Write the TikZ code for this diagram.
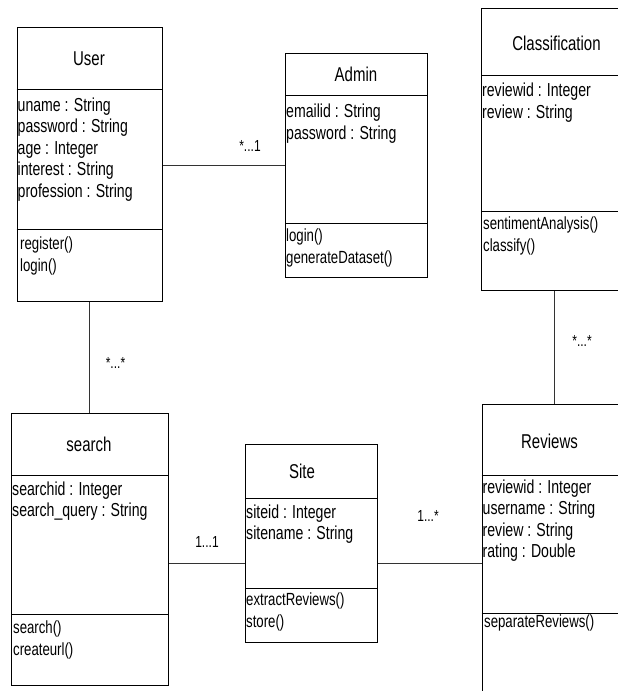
\documentclass[tikz,border=0pt]{standalone}
\usepackage{fontspec}
\setmainfont{Liberation Sans}[FakeStretch=0.75]
\tikzset{
  box/.style={draw=black, line width=1pt, inner sep=0pt, anchor=north west},
  div/.style={line width=1pt, draw=black},
  ttl/.style={font=\fontsize{20}{24}\selectfont, inner sep=0pt, anchor=base},
  attr/.style={font=\fontsize{18.8}{21.5}\selectfont, inner sep=0pt, anchor=base west},
  meth/.style={font=\fontsize{17.6}{22}\selectfont, inner sep=0pt, anchor=base west},
  conn/.style={line width=1pt, draw=black!80},
  mult/.style={font=\fontsize{16}{18}\selectfont, inner sep=0pt},
}
% name, left, top, right, bottom, divider1, divider2
\newcommand\umlbox[7]{%
  \node[box, minimum width=#4pt-#2pt, minimum height=#5pt-#3pt] (#1) at (#2,#3) {};
  \coordinate (#1-d1) at (0,#6);
  \coordinate (#1-d2) at (0,#7);
  \draw[div] (#1.west |- #1-d1) -- (#1.east |- #1-d1);
  \draw[div] (#1.west |- #1-d2) -- (#1.east |- #1-d2);
}
\begin{document}
\begin{tikzpicture}[x=1pt,y=-1pt]
\useasboundingbox (0,0) rectangle (618,691);

% User
\umlbox{user}{16.5}{26.5}{162}{301}{89}{229}
\node[ttl] (user-t) at (89,65) {User};
\node[attr] (user-a1) at (17.5,111) {uname : String};
\node[attr] (user-a2) at (17.5,132.5) {password : String};
\node[attr] (user-a3) at (17.5,154) {age : Integer};
\node[attr] (user-a4) at (17.5,175.5) {interest : String};
\node[attr] (user-a5) at (17.5,197) {profession : String};
\node[meth] (user-m1) at (20,249) {register()};
\node[meth] (user-m2) at (20,271) {login()};

% Admin
\umlbox{admin}{285}{53}{427}{277}{95}{223}
\node[ttl] (admin-t) at (356,81) {Admin};
\node[attr] (admin-a1) at (286,117) {emailid : String};
\node[attr] (admin-a2) at (286,139) {password : String};
\node[meth] (admin-m1) at (286,241) {login()};
\node[meth] (admin-m2) at (286,263) {generateDataset()};

% Classification
\umlbox{cls}{481}{7.5}{620}{290}{75}{211}
\node[ttl] (cls-t) at (556.5,50) {Classification};
\node[attr] (cls-a1) at (482,96) {reviewid : Integer};
\node[attr] (cls-a2) at (482,118) {review : String};
\node[meth] (cls-m1) at (483,229) {sentimentAnalysis()};
\node[meth] (cls-m2) at (483,251) {classify()};

% search
\umlbox{search}{11}{413}{167.5}{685}{475}{614}
\node[ttl] (search-t) at (89,451) {search};
\node[attr] (search-a1) at (12,495) {searchid : Integer};
\node[attr] (search-a2) at (12,516) {search\_query : String};
\node[meth] (search-m1) at (13,633) {search()};
\node[meth] (search-m2) at (13,655) {createurl()};

% Site
\umlbox{site}{245}{444}{376.5}{642}{498}{588}
\node[ttl] (site-t) at (302,478.5) {Site};
\node[attr] (site-a1) at (246,518) {siteid : Integer};
\node[attr] (site-a2) at (246,539) {sitename : String};
\node[meth] (site-m1) at (246,605) {extractReviews()};
\node[meth] (site-m2) at (246,627) {store()};

% Reviews
\umlbox{rev}{481.5}{404}{620}{700}{475}{613}
\node[ttl] (rev-t) at (549.5,448.5) {Reviews};
\node[attr] (rev-a1) at (482.5,493) {reviewid : Integer};
\node[attr] (rev-a2) at (482.5,514.5) {username : String};
\node[attr] (rev-a3) at (482.5,536) {review : String};
\node[attr] (rev-a4) at (482.5,557.5) {rating : Double};
\node[meth] (rev-m1) at (484,627) {separateReviews()};

% connectors
\coordinate (y1) at (0,165);
\coordinate (x1) at (89,0);
\coordinate (y2) at (0,563);
\coordinate (x2) at (554,0);
\draw[conn] (user.east |- y1) -- (admin.west |- y1);
\draw[conn] (user.south -| x1) -- (search.north -| x1);
\draw[conn] (search.east |- y2) -- (site.west |- y2);
\draw[conn] (site.east |- y2) -- (rev.west |- y2);
\draw[conn] (cls.south -| x2) -- (rev.north -| x2);

% multiplicities
\node[mult] (m1) at (250,146) {*...1};
\node[mult] (m2) at (115.5,363) {*...*};
\node[mult] (m3) at (207,542) {1...1};
\node[mult] (m4) at (428,516) {1...*};
\node[mult] (m5) at (582,341) {*...*};
\end{tikzpicture}
\end{document}
